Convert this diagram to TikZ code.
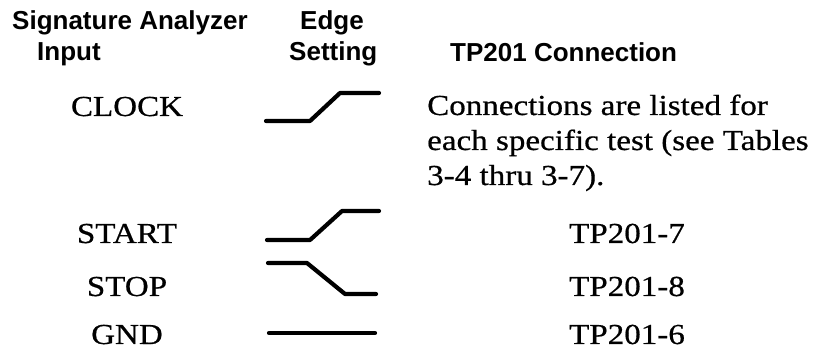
\documentclass[tikz,border=0pt]{standalone}
\usepackage{fontspec}
\setmainfont{Liberation Serif}[FakeStretch=1.14,FakeBold=0.6]
\newfontfamily\headfont{Liberation Sans}
\usepackage{tikz}
\tikzset{every node/.style={inner sep=0pt}}
\tikzset{head/.style={font=\headfont\bfseries\fontsize{26}{30}\selectfont,anchor=base west}}
\tikzset{body/.style={font=\fontsize{29}{35}\selectfont,anchor=base}}
\tikzset{wave/.style={line width=4.2pt,line cap=round,line join=round}}
\newcommand{\sigrow}[4]{\node[body] at (127,#1) (#2) {#3}; \node[body] at (627,#1) (#2 tp) {#4}}

\begin{document}
\begin{tikzpicture}[x=1pt,y=-1pt]
	\useasboundingbox (0,0) rectangle (822,352);
	% column heads
	\node[head] at (12,30) (sig) {Signature Analyzer};
	\node[head] at (37,61) (input) {Input};
	\node[head] at (300,30) (edge) {Edge};
	\node[head] at (289,61) (setting) {Setting};
	\node[head] at (450,62) (tp) {TP201 Connection};
	
	\node[body] at (127,116) (clock) {CLOCK};
	\node[body,anchor=base west] at (427,115) (note1) {Connections are listed for};
	\node[body,anchor=base west] at (427,150) (note2) {each specific test (see Tables};
	\node[body,anchor=base west] at (427,185) (note3) {3-4 thru 3-7).};
	
	\sigrow{243}{start}{START}{TP201-7};
	\sigrow{296}{stop}{STOP}{TP201-8};
	\sigrow{344}{gnd}{GND}{TP201-6};
	
	% edge settings
	\draw[wave] (266,121) -- (310,121) -- (340,93) -- (379,93);
	\draw[wave] (267,240) -- (310,240) -- (342,211) -- (379,211);
	\draw[wave] (268,263) -- (307,263) -- (345,294) -- (376,294);
	\draw[wave] (269,333) -- (375,333);
\end{tikzpicture}
\end{document}
